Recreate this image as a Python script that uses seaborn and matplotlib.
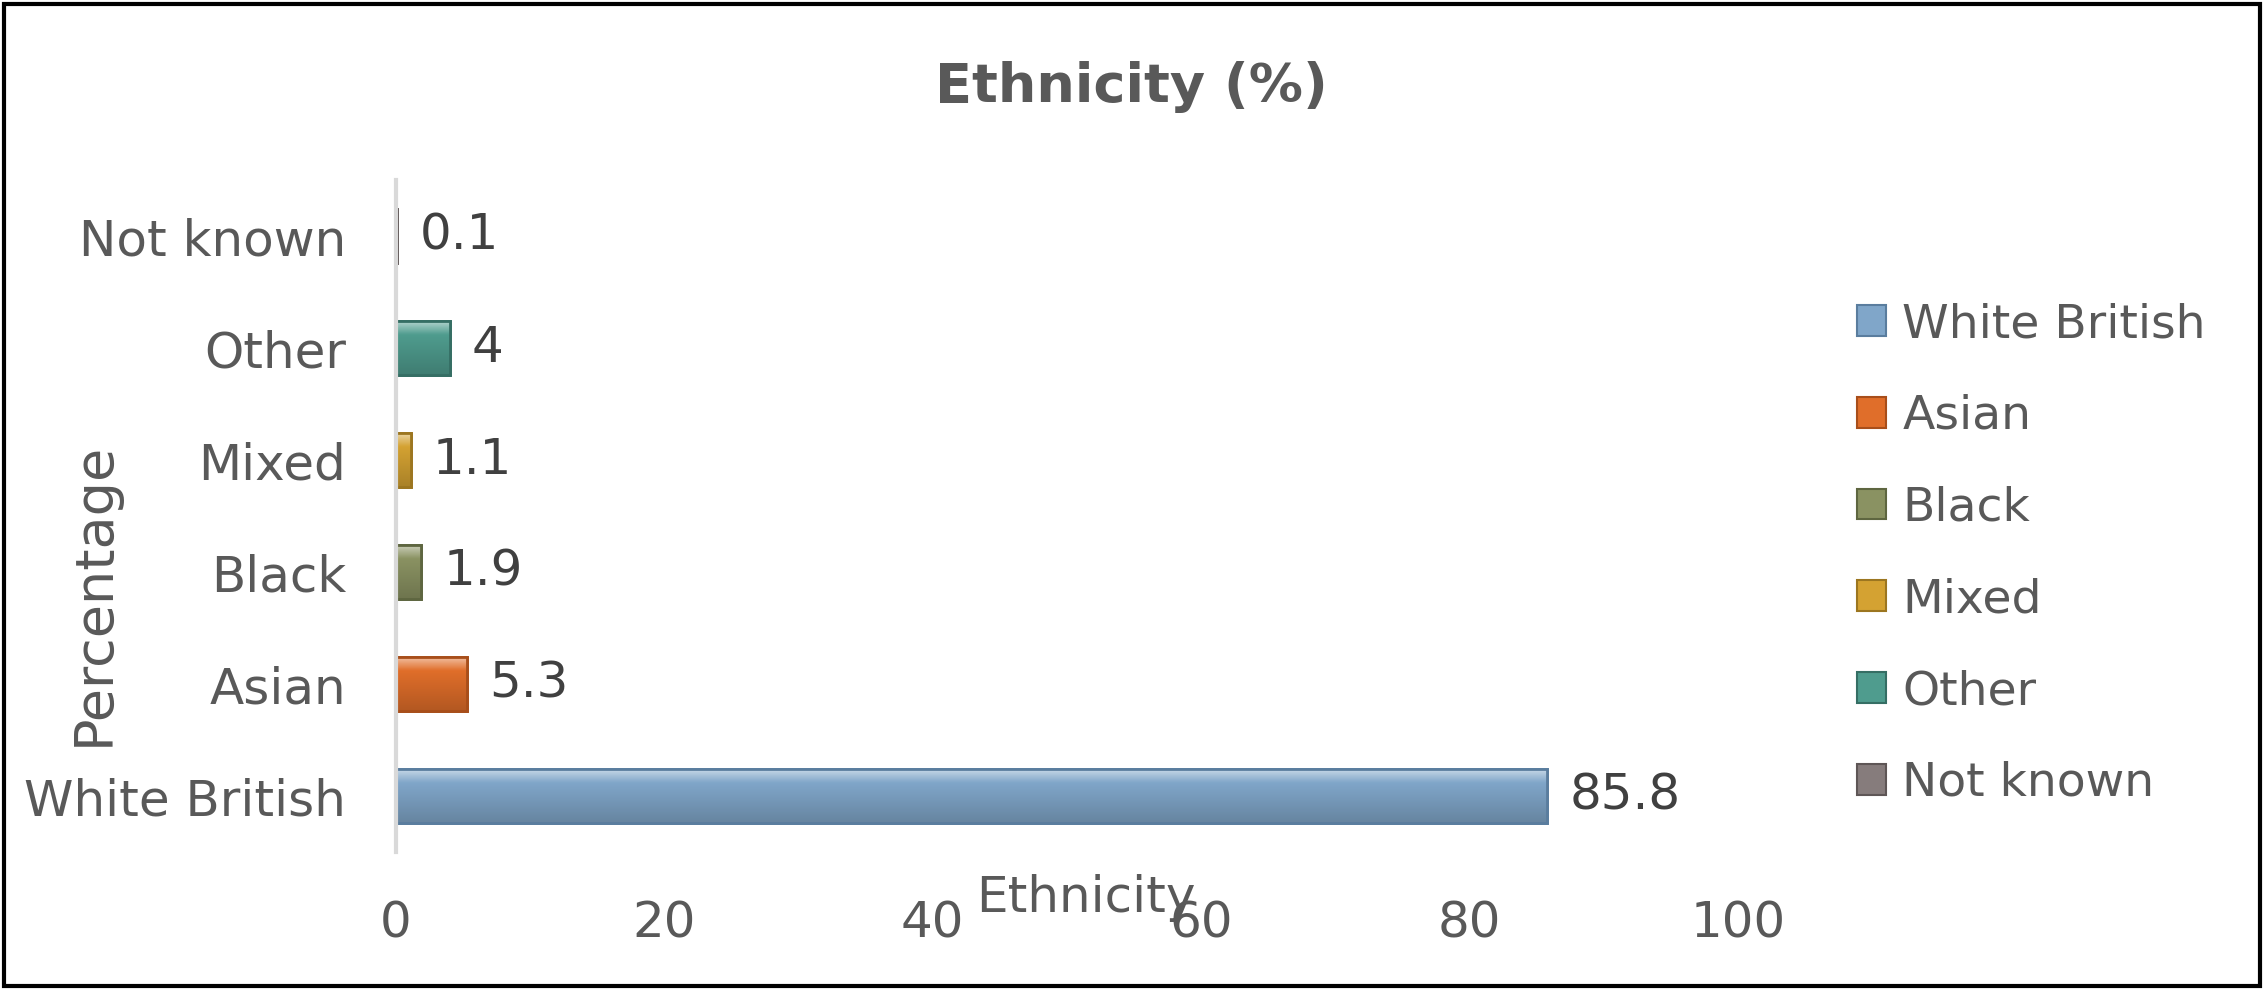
import numpy as np
import pandas as pd
import matplotlib
matplotlib.use("Agg")
import matplotlib.pyplot as plt
from matplotlib.patches import Patch, Rectangle
from matplotlib.colors import to_rgb
import seaborn as sns

# data
categories = ["White British", "Asian", "Black", "Mixed", "Other", "Not known"]
values = [85.8, 5.3, 1.9, 1.1, 4, 0.1]
colors = ["#80a6c9", "#e06e2a", "#8a9262", "#d4a232", "#4f9c8e", "#867c7c"]
edges = ["#5a7d9e", "#a84e1a", "#5e6640", "#9c7620", "#356e64", "#5e5656"]
x_ticks = [0, 20, 40, 60, 80, 100]

df = pd.DataFrame({"Ethnicity": categories, "Value": values})
order = categories[::-1]

sns.set_style("white")
plt.rcParams['font.family'] = ['DejaVu Sans']
text_col = "#595959"
fs = 36

W, H = 2264, 990
fig = plt.figure(figsize=(W / 100, H / 100), dpi=100)
ax = fig.add_axes([396 / W, (H - 852) / H, (1738 - 396) / W, (852 - 180) / H])

pal = dict(zip(categories, colors))
sns.barplot(data=df, x="Value", y="Ethnicity", hue="Ethnicity", order=order,
            hue_order=categories, palette=pal, orient="h", width=0.48,
            legend=False, ax=ax, saturation=1)

ax.set_xlim(0, 100)
ax.set_ylim(5.5, -0.5)

# soft bevel on the bars: light top, darker bottom
edge_map = dict(zip(categories, edges))
col_map = dict(zip(categories, colors))
for bar in list(ax.patches):
    cat = order[int(round(bar.get_y() + bar.get_height() / 2))]
    base = np.array(to_rgb(col_map[cat]))
    t = np.linspace(0, 1, 64)[:, None]
    light = base + (1 - base) * 0.55
    dark = base * 0.8
    grad = np.where(t < 0.25, light + (base - light) * (t / 0.25),
                    base + (dark - base) * ((t - 0.25) / 0.75))
    img = grad[:, None, :]
    x0, y0 = bar.get_x(), bar.get_y()
    w, h = bar.get_width(), bar.get_height()
    im = ax.imshow(img, extent=(x0, x0 + w, y0 + h, y0), aspect="auto",
                   interpolation="bilinear", zorder=bar.get_zorder() + 0.1)
    im.set_clip_path(bar)
    bar.set_edgecolor(edge_map[cat])
    bar.set_linewidth(2)
    ax.add_patch(Rectangle((x0, y0), w, h, fill=False, edgecolor=edge_map[cat],
                           linewidth=2, zorder=bar.get_zorder() + 0.2))

ax.set_xlim(0, 100)
ax.set_ylim(5.5, -0.5)

# data labels
for cat, v in zip(categories, values):
    ax.annotate(f"{v:g}", xy=(v, order.index(cat)), xytext=(16, 0),
                textcoords="offset points", va="center", ha="left",
                fontsize=fs, color="#404040")

ax.set_xticks(x_ticks)
ax.tick_params(axis="x", pad=34, labelsize=fs, labelcolor=text_col, length=0)
ax.tick_params(axis="y", pad=36, labelsize=fs, labelcolor=text_col, length=0)

for s in ["top", "right", "bottom"]:
    ax.spines[s].set_visible(False)
ax.spines["left"].set_color("#d9d9d9")
ax.spines["left"].set_linewidth(3)

ax.set_xlabel("")
ax.set_ylabel("")
fig.text(1086 / W, 1 - 898 / H, "Ethnicity", ha="center", va="center",
         fontsize=fs, color=text_col)
fig.text(94 / W, 1 - 594 / H, "Percentage", ha="center", va="center",
         rotation=90, fontsize=39, color=text_col)
fig.text(1131 / W, 1 - 87 / H, "Ethnicity (%)", ha="center", va="center",
         fontsize=39, fontweight="bold", color=text_col)

handles = [Patch(facecolor=c, edgecolor=e, linewidth=1.5) for c, e in zip(colors, edges)]
fig.legend(handles, categories, loc="center left", bbox_to_anchor=(1833 / W, 1 - 554 / H),
           frameon=False, fontsize=34, labelcolor=text_col, handlelength=0.62,
           handleheight=0.62, handletextpad=0.35, labelspacing=0.99, borderpad=0)

fig.patches.append(Rectangle((4 / W, 4 / H), 1 - 8 / W, 1 - 8 / H, transform=fig.transFigure,
                             fill=False, edgecolor="black", linewidth=3))

fig.savefig("out.png", dpi=100)
